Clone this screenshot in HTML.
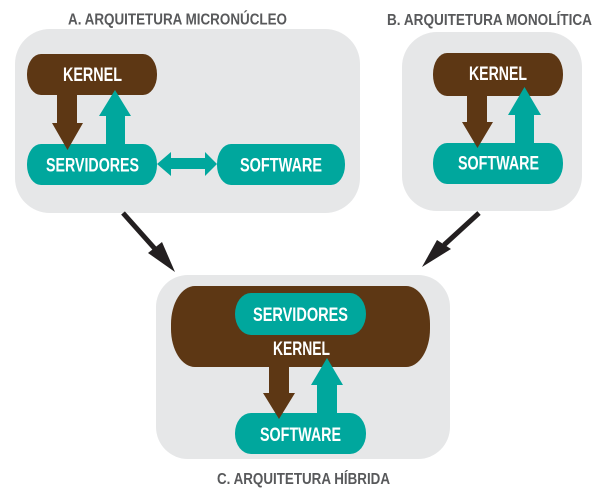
<!DOCTYPE html>
<html>
<head>
<meta charset="utf-8">
<style>
  html,body{margin:0;padding:0;background:#fff;}
  svg{display:block;}
  .t{font-family:"Liberation Sans",Arial,sans-serif;font-weight:bold;fill:#58595b;font-size:16px;}
  .w{font-family:"Liberation Sans",Arial,sans-serif;font-weight:bold;fill:#fff;font-size:19px;}
</style>
</head>
<body>
<svg width="606" height="494" viewBox="0 0 606 494" xmlns="http://www.w3.org/2000/svg">
  <rect x="0" y="0" width="606" height="494" fill="#fff"/>

  <!-- Panels -->
  <rect x="15" y="29" width="345" height="184" rx="35" ry="35" fill="#e6e7e8"/>
  <rect x="402" y="32" width="180" height="179" rx="35" ry="35" fill="#e6e7e8"/>
  <rect x="156" y="275" width="294" height="184" rx="32" ry="32" fill="#e6e7e8"/>

  <!-- Titles -->
  <text class="t" x="68" y="24.5" textLength="219" lengthAdjust="spacingAndGlyphs">A. ARQUITETURA MICRONÚCLEO</text>
  <text class="t" x="387" y="25" textLength="205" lengthAdjust="spacingAndGlyphs">B. ARQUITETURA MONOLÍTICA</text>
  <text class="t" x="217" y="484" textLength="173" lengthAdjust="spacingAndGlyphs">C. ARQUITETURA HÍBRIDA</text>

  <!-- Panel A -->
  <rect x="27" y="54" width="130" height="41" rx="14" ry="20" fill="#5d3714"/>
  <rect x="27" y="144" width="130" height="41" rx="14" ry="20" fill="#00a79d"/>
  <rect x="217" y="144" width="128" height="41" rx="14" ry="20" fill="#00a79d"/>
  <polygon points="57,94 77,94 77,123 83,123 67.5,150 52,123 57,123" fill="#5d3714"/>
  <polygon points="106,146 125,146 125,116 131,116 115,90 99,116 106,116" fill="#00a79d"/>
  <polygon points="157,164 171,152 171,158 205,158 205,152 217,164 205,176 205,169 171,169 171,176" fill="#00a79d"/>
  <text class="w" x="63" y="81" textLength="59" lengthAdjust="spacingAndGlyphs">KERNEL</text>
  <text class="w" x="46" y="171.5" textLength="93" lengthAdjust="spacingAndGlyphs">SERVIDORES</text>
  <text class="w" x="240" y="171.5" textLength="82" lengthAdjust="spacingAndGlyphs">SOFTWARE</text>

  <!-- Panel B -->
  <rect x="433" y="53" width="130" height="43" rx="14" ry="21" fill="#5d3714"/>
  <rect x="433" y="143" width="130" height="41" rx="14" ry="20" fill="#00a79d"/>
  <polygon points="467,95 487,95 487,122 493,122 477.5,148 462,122 467,122" fill="#5d3714"/>
  <polygon points="515,145 534,145 534,115 541,115 524.5,87 508,115 515,115" fill="#00a79d"/>
  <text class="w" x="469" y="80" textLength="58" lengthAdjust="spacingAndGlyphs">KERNEL</text>
  <text class="w" x="458" y="169.5" textLength="81" lengthAdjust="spacingAndGlyphs">SOFTWARE</text>

  <!-- Panel C -->
  <rect x="171" y="286" width="259" height="81" rx="24" ry="38" fill="#5d3714"/>
  <rect x="235" y="293" width="131" height="42" rx="16" ry="21" fill="#00a79d"/>
  <rect x="235" y="413" width="131" height="41" rx="16" ry="20" fill="#00a79d"/>
  <polygon points="269,366 289,366 289,393 295,393 279,419 263,393 269,393" fill="#5d3714"/>
  <polygon points="317,414 337,414 337,385 343,385 327,358 311,385 317,385" fill="#00a79d"/>
  <text class="w" x="253" y="321" textLength="95" lengthAdjust="spacingAndGlyphs">SERVIDORES</text>
  <text class="w" x="273" y="355" textLength="57" lengthAdjust="spacingAndGlyphs">KERNEL</text>
  <text class="w" x="260" y="441" textLength="81" lengthAdjust="spacingAndGlyphs">SOFTWARE</text>

  <!-- Black connector arrows -->
  <line x1="123" y1="213" x2="156" y2="250" stroke="#231f20" stroke-width="5"/>
  <polygon points="175,272 148,253 162,242" fill="#231f20"/>
  <line x1="479" y1="213" x2="444" y2="245" stroke="#231f20" stroke-width="5"/>
  <polygon points="422,267 437,240 451,249" fill="#231f20"/>
</svg>
</body>
</html>
